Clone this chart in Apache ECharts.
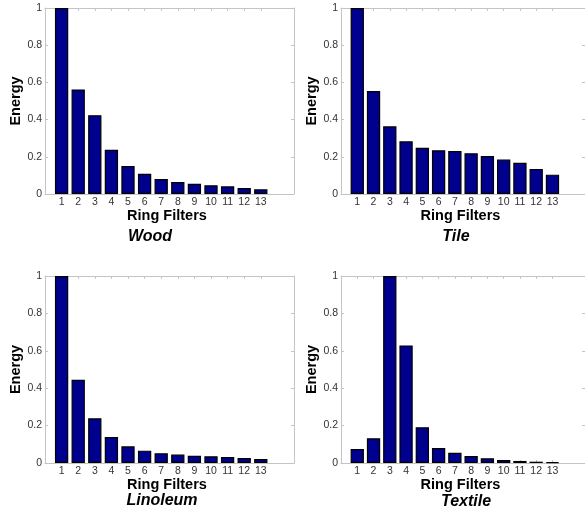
<!DOCTYPE html>
<html>
<head>
<meta charset="utf-8">
<script src="https://cdn.jsdelivr.net/npm/echarts@6/dist/echarts.min.js"></script>
<style>
  html, body { margin: 0; padding: 0; background: #ffffff; }
  #chart { width: 585px; height: 520px; }
</style>
</head>
<body>
<div id="chart"></div>
<script>
// Ring filter indices (x positions of the bars)
const ringFilters = [1, 2, 3, 4, 5, 6, 7, 8, 9, 10, 11, 12, 13];

// Normalised energy per ring filter, one array per texture
const woodEnergy     = [1.0, 0.562, 0.424, 0.238, 0.150, 0.109, 0.080, 0.064, 0.055, 0.047, 0.041, 0.032, 0.025];
const tileEnergy     = [1.0, 0.554, 0.364, 0.283, 0.249, 0.235, 0.231, 0.219, 0.204, 0.185, 0.168, 0.134, 0.104];
const linoleumEnergy = [1.0, 0.445, 0.239, 0.139, 0.089, 0.066, 0.052, 0.045, 0.039, 0.036, 0.032, 0.027, 0.021];
const textileEnergy  = [0.075, 0.132, 1.0, 0.629, 0.191, 0.080, 0.055, 0.037, 0.025, 0.016, 0.011, 0.007, 0.005];

// Panel titles and axis titles
const panelTitles = ['Wood', 'Tile', 'Linoleum', 'Textile'];
const xAxisTitle = 'Ring Filters';
const yAxisTitle = 'Energy';
const yTicks = [0, 0.2, 0.4, 0.6, 0.8, 1];

const FONT = '"Liberation Sans", Arial, sans-serif';
const FRAME = '#c4c4c4';
const BAR = '#00008f';

const panels = [
  { data: woodEnergy,     grid: { left: 45, right: 291, top: 8,   bottom: 326 }, title: [150, 237] },
  { data: tileEnergy,     grid: { left: 341, right: -5, top: 8,   bottom: 326 }, title: [456, 237] },
  { data: linoleumEnergy, grid: { left: 45, right: 291, top: 276, bottom: 57 },  title: [162, 501] },
  { data: textileEnergy,  grid: { left: 341, right: -5, top: 276, bottom: 57 },  title: [466, 502] }
];

const grid = [], xAxis = [], yAxis = [], series = [], graphic = [];

panels.forEach((p, i) => {
  grid.push(Object.assign({ containLabel: false }, p.grid));

  // bottom axis with labels
  xAxis.push({
    type: 'value', gridIndex: i, min: 0, max: 15, position: 'bottom',
    name: xAxisTitle, nameLocation: 'middle', nameGap: 12,
    nameTextStyle: { fontFamily: FONT, fontWeight: 'bold', fontSize: 14.5, color: '#000', padding: [0, 5, 0, 0] },
    axisLine: { show: true, onZero: false, lineStyle: { color: FRAME, width: 1 } },
    axisTick: { show: true, inside: true, length: 3, customValues: ringFilters, lineStyle: { color: FRAME } },
    axisLabel: { show: true, customValues: ringFilters, margin: 3, fontFamily: FONT, fontSize: 10.5, color: '#333' },
    splitLine: { show: false }
  });
  // top frame edge with ticks only
  xAxis.push({
    type: 'value', gridIndex: i, min: 0, max: 15, position: 'top',
    axisLine: { show: true, onZero: false, lineStyle: { color: FRAME, width: 1 } },
    axisTick: { show: true, inside: true, length: 3, customValues: ringFilters, lineStyle: { color: FRAME } },
    axisLabel: { show: false },
    splitLine: { show: false }
  });

  // left axis with labels
  yAxis.push({
    type: 'value', gridIndex: i, min: 0, max: 1, interval: 0.2, position: 'left',
    name: yAxisTitle, nameLocation: 'middle', nameGap: 21, nameRotate: 90,
    nameTextStyle: { fontFamily: FONT, fontWeight: 'bold', fontSize: 14.5, color: '#000' },
    axisLine: { show: true, onZero: false, lineStyle: { color: FRAME, width: 1 } },
    axisTick: { show: true, inside: true, length: 3, lineStyle: { color: FRAME } },
    axisLabel: {
      show: true, margin: 3, fontFamily: FONT, fontSize: 10.5, color: '#333',
      formatter: v => String(Math.round(v * 10) / 10)
    },
    splitLine: { show: false }
  });
  // right frame edge with ticks only
  yAxis.push({
    type: 'value', gridIndex: i, min: 0, max: 1, interval: 0.2, position: 'right',
    axisLine: { show: true, onZero: false, lineStyle: { color: FRAME, width: 1 } },
    axisTick: { show: true, inside: true, length: 3, lineStyle: { color: FRAME } },
    axisLabel: { show: false },
    splitLine: { show: false }
  });

  series.push({
    type: 'bar',
    xAxisIndex: i * 2,
    yAxisIndex: i * 2,
    barWidth: 13.3,
    data: ringFilters.map((r, k) => [r, p.data[k]]),
    itemStyle: { color: BAR, borderColor: '#000', borderWidth: 1.2 },
    silent: true,
    animation: false
  });

  graphic.push({
    type: 'text',
    x: p.title[0], y: p.title[1],
    style: {
      text: panelTitles[i],
      fontFamily: FONT, fontWeight: 'bold', fontStyle: 'italic', fontSize: 16,
      fill: '#000', align: 'center', verticalAlign: 'middle'
    }
  });
});

const chart = echarts.init(document.getElementById('chart'), null, { renderer: 'canvas' });
chart.setOption({
  animation: false,
  backgroundColor: '#ffffff',
  grid, xAxis, yAxis, series, graphic
});
</script>
</body>
</html>
